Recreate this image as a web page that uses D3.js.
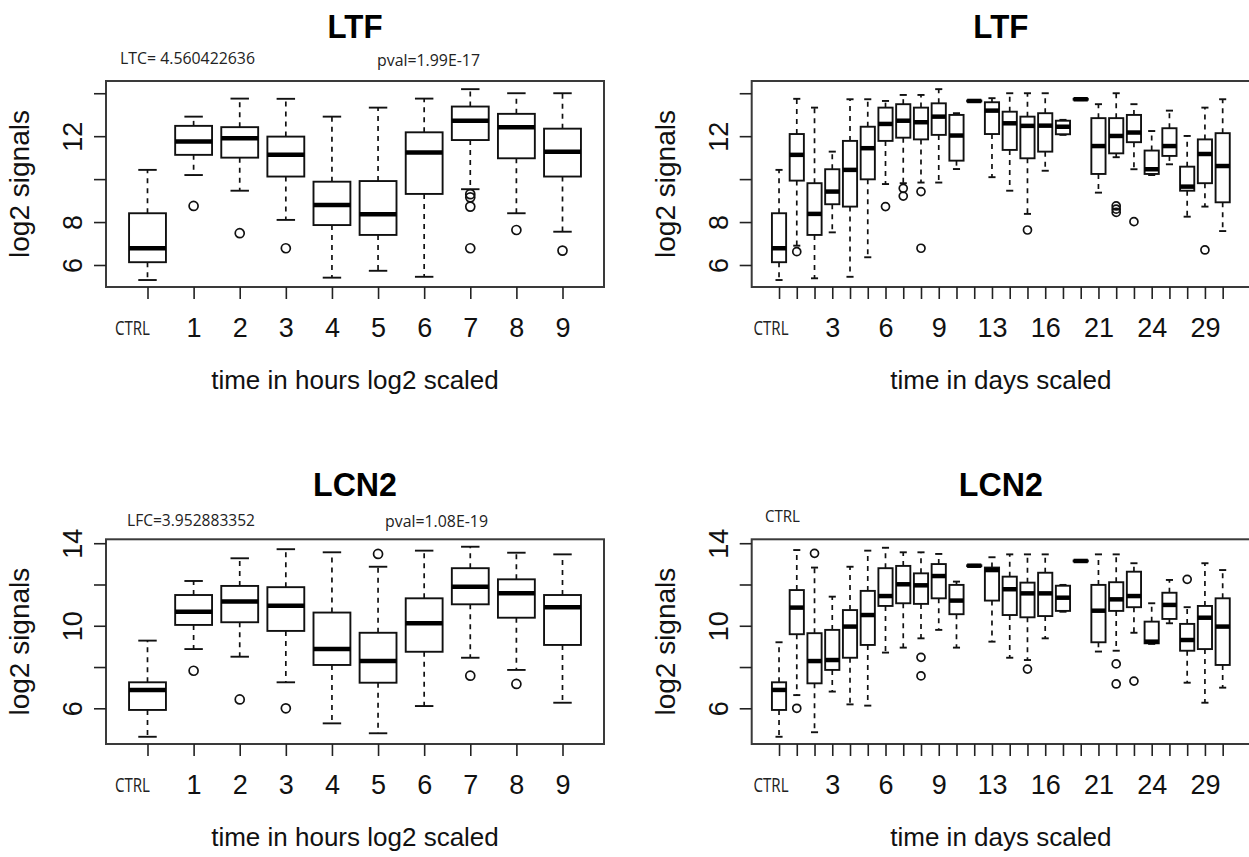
<!DOCTYPE html>
<html>
<head>
<meta charset="utf-8">
<script src="https://cdn.jsdelivr.net/npm/d3@7"></script>
<style>
  body { margin: 0; background: #fff; }
  svg { display: block; }
  .tick text { font-family: "Liberation Sans", Arial, sans-serif; }
</style>
</head>
<body>
<script>
// categories
let hoursCats = ["CTRL", "1", "2", "3", "4", "5", "6", "7", "8", "9"];
let daysCats = ["CTRL", "1", "2", "3", "4", "5", "6", "7", "8", "9", "10", "11", "13",
  "14", "15", "16", "17", "20", "21", "22", "23", "24", "27", "28", "29", "30"];
let daysShown = ["CTRL", "3", "6", "9", "13", "16", "21", "24", "29"];

// y tick values and which of them R printed
let yTicks = [6, 8, 10, 12, 14];
let ltfYShown = [6, 8, 12];
let lcnYShown = [6, 10, 14];

// box stats: [lower whisker, Q1, median, Q3, upper whisker]
let ltfHours = [
  [5.30, 6.13, 6.78, 8.41, 10.43], [10.19, 11.13, 11.75, 12.48, 12.91],
  [9.46, 11.00, 11.90, 12.42, 13.75], [8.10, 10.12, 11.13, 11.98, 13.74],
  [5.41, 7.86, 8.80, 9.88, 12.91], [5.73, 7.40, 8.36, 9.91, 13.33],
  [5.45, 9.31, 11.24, 12.18, 13.75], [9.53, 11.82, 12.72, 13.38, 14.19],
  [8.41, 10.97, 12.42, 13.04, 14.00], [7.55, 10.12, 11.28, 12.35, 14.00]
];
let ltfHoursOut = [[], [8.75], [7.48], [6.78], [], [], [], [9.30, 9.15, 8.72, 6.78], [7.63], [6.67]];

let lcnHours = [
  [4.62, 5.92, 6.89, 7.26, 9.28], [8.87, 10.04, 10.68, 11.49, 12.17],
  [8.50, 10.17, 11.17, 11.93, 13.27], [7.26, 9.75, 10.97, 11.87, 13.71],
  [5.27, 8.10, 8.87, 10.64, 13.56], [4.79, 7.24, 8.29, 9.66, 12.86],
  [6.11, 8.74, 10.12, 11.33, 13.64], [8.45, 11.04, 11.89, 12.79, 13.83],
  [7.86, 10.39, 11.57, 12.25, 13.54], [6.27, 9.07, 10.90, 11.49, 13.46]
];
let lcnHoursOut = [[], [7.82], [6.43], [6.00], [], [13.48], [], [7.58], [7.18], []];

let ltfDays = [
  [5.30, 6.13, 6.78, 8.41, 10.43], [6.90, 9.93, 11.13, 12.10, 13.74],
  [5.38, 7.40, 8.38, 9.81, 13.33], [7.52, 8.83, 9.42, 10.46, 11.28],
  [5.45, 8.72, 10.43, 11.78, 13.72], [6.36, 9.99, 11.44, 12.44, 13.72],
  [9.77, 11.78, 12.57, 13.33, 13.64], [9.81, 11.93, 12.72, 13.49, 13.92],
  [9.84, 11.85, 12.65, 13.33, 13.92], [9.84, 12.06, 12.91, 13.53, 14.19],
  [10.47, 10.86, 12.03, 12.99, 13.07], [13.60, 13.62, 13.64, 13.66, 13.68],
  [10.09, 12.10, 13.19, 13.58, 13.77], [9.46, 11.36, 12.60, 13.14, 14.00],
  [8.38, 10.97, 12.48, 12.91, 14.00], [10.39, 11.28, 12.49, 13.07, 14.00],
  [12.06, 12.09, 12.44, 12.72, 12.76], [13.68, 13.70, 13.72, 13.74, 13.76],
  [9.37, 10.24, 11.54, 12.84, 13.49], [11.02, 11.20, 12.01, 12.84, 14.00],
  [10.46, 11.72, 12.17, 12.99, 13.49], [10.19, 10.24, 10.46, 11.33, 12.24],
  [10.69, 11.08, 11.54, 12.37, 13.19], [8.25, 9.46, 9.65, 10.58, 12.01],
  [8.72, 9.81, 11.17, 11.85, 13.33], [7.58, 8.92, 10.61, 12.14, 13.72]
];
let ltfDaysOut = [[], [6.62], [], [], [], [], [8.72], [9.57, 9.21], [9.42, 6.78], [], [], [],
  [], [], [7.63], [], [], [], [], [8.75, 8.60, 8.45], [8.02], [], [], [], [6.70], []];

let lcnDays = [
  [4.62, 5.92, 6.89, 7.26, 9.20], [6.64, 9.59, 10.88, 11.73, 13.67],
  [4.84, 7.21, 8.29, 9.64, 12.82], [6.81, 7.86, 8.34, 9.80, 11.41],
  [6.19, 8.45, 9.96, 10.76, 12.86], [6.13, 9.07, 10.52, 11.69, 13.64],
  [8.70, 10.96, 11.44, 12.79, 13.78], [8.94, 11.09, 12.01, 12.90, 13.56],
  [9.39, 11.06, 11.96, 12.54, 13.56], [9.80, 11.33, 12.41, 12.99, 13.48],
  [8.94, 10.56, 11.22, 11.98, 12.14], [12.87, 12.89, 12.91, 12.93, 12.95],
  [9.23, 11.22, 12.70, 12.82, 13.32], [8.45, 10.52, 11.77, 12.38, 13.46],
  [8.34, 10.41, 11.57, 12.09, 13.46], [9.39, 10.47, 11.57, 12.57, 13.46],
  [10.68, 10.72, 11.36, 11.94, 11.98], [13.10, 13.12, 13.14, 13.16, 13.18],
  [8.75, 9.20, 10.73, 11.98, 13.46], [8.79, 10.72, 11.28, 12.11, 13.46],
  [9.66, 10.90, 11.44, 12.62, 13.03], [9.12, 9.15, 9.23, 10.20, 11.09],
  [10.12, 10.33, 11.01, 11.60, 12.22], [7.24, 8.79, 9.31, 10.09, 10.90],
  [6.27, 8.87, 10.39, 10.96, 13.03], [7.00, 8.10, 9.96, 11.33, 12.70]
];
let lcnDaysOut = [[], [6.00], [13.51], [], [], [], [], [], [8.47, 7.57], [], [], [],
  [], [], [7.90], [], [], [], [], [8.15, 7.18], [7.32], [], [], [12.25], [], []];

let width = 1249;
let height = 857;

let svg = d3.select("body").append("svg")
  .attr("width", width)
  .attr("height", height);

let font = '"Liberation Sans", Arial, sans-serif';
let narrow = '"Liberation Sans Narrow", "Open Sans", sans-serif';

// one panel = one R boxplot
function panel(opt) {
  let x = d3.scalePoint()
    .domain(opt.cats)
    .range([opt.left, opt.right])
    .padding(opt.pad);
  let y = d3.scaleLinear()
    .domain(opt.ydom)
    .range([opt.bottom, opt.top]);

  let g = svg.append("g");
  let step = x.step();
  let bw = step * 0.8;
  let cw = bw * 0.5;

  // frame
  g.append("rect")
    .attr("x", opt.left).attr("y", opt.top)
    .attr("width", opt.right - opt.left)
    .attr("height", opt.bottom - opt.top)
    .attr("fill", "none")
    .attr("stroke", "#3a3a3a")
    .attr("stroke-width", 2);

  let box = g.selectAll(".box")
    .data(opt.stats.map((s, i) => ({ s: s, out: opt.out[i], c: opt.cats[i] })))
    .enter()
    .append("g")
    .attr("transform", d => "translate(" + x(d.c) + ",0)");

  // whiskers
  box.append("line")
    .attr("y1", d => y(d.s[3])).attr("y2", d => y(d.s[4]))
    .attr("stroke", "#111").attr("stroke-width", 1.7)
    .attr("stroke-dasharray", "5,5");
  box.append("line")
    .attr("y1", d => y(d.s[1])).attr("y2", d => y(d.s[0]))
    .attr("stroke", "#111").attr("stroke-width", 1.7)
    .attr("stroke-dasharray", "5,5");
  // staples
  [0, 4].forEach(k => {
    box.append("line")
      .attr("x1", -cw / 2).attr("x2", cw / 2)
      .attr("y1", d => y(d.s[k])).attr("y2", d => y(d.s[k]))
      .attr("stroke", "#111").attr("stroke-width", 1.9);
  });
  // box
  box.append("rect")
    .attr("x", -bw / 2).attr("width", bw)
    .attr("y", d => y(d.s[3]))
    .attr("height", d => y(d.s[1]) - y(d.s[3]))
    .attr("fill", "#fff")
    .attr("stroke", "#111").attr("stroke-width", 1.9);
  // median
  box.append("line")
    .attr("x1", -bw / 2).attr("x2", bw / 2)
    .attr("y1", d => y(d.s[2])).attr("y2", d => y(d.s[2]))
    .attr("stroke", "#000").attr("stroke-width", 4.5);
  // outliers
  box.selectAll("circle")
    .data(d => d.out)
    .enter()
    .append("circle")
    .attr("cy", d => y(d))
    .attr("r", opt.r)
    .attr("fill", "none")
    .attr("stroke", "#111").attr("stroke-width", 1.7);

  // y axis
  let ya = g.append("g")
    .attr("transform", "translate(" + opt.left + ",0)")
    .call(d3.axisLeft(y).tickValues(yTicks).tickSize(12)
      .tickFormat(d => opt.yShown.includes(d) ? d : ""));
  ya.select(".domain").remove();
  ya.selectAll("line").attr("stroke", "#222").attr("stroke-width", 1.6);
  ya.selectAll("text")
    .attr("x", 0).attr("y", -24).attr("dy", 0)
    .attr("transform", "rotate(-90)")
    .attr("text-anchor", "middle")
    .style("font-size", "27px").attr("fill", "#111");

  // x axis
  let xa = g.append("g")
    .attr("transform", "translate(0," + opt.bottom + ")")
    .call(d3.axisBottom(x).tickSize(12)
      .tickFormat(d => (d != "CTRL" && opt.shown.includes(d)) ? d : ""));
  xa.select(".domain").remove();
  xa.selectAll("line").attr("stroke", "#222").attr("stroke-width", 1.6);
  xa.selectAll("text")
    .attr("y", 50).attr("dy", 0)
    .style("font-size", "27px").attr("fill", "#111");

  // CTRL label (pasted in afterwards, different font)
  g.append("text")
    .attr("x", x("CTRL") + opt.ctrlDx)
    .attr("y", opt.bottom + 48)
    .attr("text-anchor", "middle")
    .attr("textLength", 35).attr("lengthAdjust", "spacingAndGlyphs")
    .style("font-family", narrow).style("font-size", "20px")
    .attr("fill", "#222")
    .text("CTRL");

  // title
  let cx = (opt.left + opt.right) / 2;
  g.append("text")
    .attr("x", cx).attr("y", opt.top - 43)
    .attr("text-anchor", "middle")
    .attr("textLength", opt.titleW).attr("lengthAdjust", "spacingAndGlyphs")
    .style("font-family", font).style("font-weight", "bold").style("font-size", "34px")
    .text(opt.title);

  // axis titles
  g.append("text")
    .attr("x", cx).attr("y", opt.bottom + 102)
    .attr("text-anchor", "middle")
    .style("font-family", font).style("font-size", "26px")
    .attr("fill", "#111")
    .text(opt.xlab);
  g.append("text")
    .attr("transform", "translate(" + (opt.left - 77) + "," + ((opt.top + opt.bottom) / 2) + ") rotate(-90)")
    .attr("text-anchor", "middle")
    .style("font-family", font).style("font-size", "28px")
    .attr("fill", "#111")
    .text("log2 signals");

  // notes
  (opt.notes || []).forEach(n => {
    g.append("text")
      .attr("x", n.x).attr("y", n.y)
      .attr("textLength", n.w).attr("lengthAdjust", "spacingAndGlyphs")
      .style("font-family", narrow).style("font-size", "17px")
      .attr("fill", "#222")
      .text(n.t);
  });
}

panel({
  title: "LTF", titleW: 55, xlab: "time in hours log2 scaled",
  cats: hoursCats, shown: hoursCats, stats: ltfHours, out: ltfHoursOut,
  left: 106, right: 604, pad: 0.9, top: 81, bottom: 287, ydom: [4.975, 14.57],
  yShown: ltfYShown, r: 4.5, ctrlDx: -15,
  notes: [{ x: 120, y: 64, w: 135, t: "LTC= 4.560422636" },
          { x: 377, y: 66, w: 103, t: "pval=1.99E-17" }]
});

panel({
  title: "LTF", titleW: 55, xlab: "time in days scaled",
  cats: daysCats, shown: daysShown, stats: ltfDays, out: ltfDaysOut,
  left: 751.7, right: 1250, pad: 1.54, top: 81, bottom: 287, ydom: [4.975, 14.57],
  yShown: ltfYShown, r: 4, ctrlDx: -8
});

panel({
  title: "LCN2", titleW: 84, xlab: "time in hours log2 scaled",
  cats: hoursCats, shown: hoursCats, stats: lcnHours, out: lcnHoursOut,
  left: 106, right: 604, pad: 0.9, top: 539.3, bottom: 744, ydom: [4.27, 14.19],
  yShown: lcnYShown, r: 4.5, ctrlDx: -15,
  notes: [{ x: 127, y: 526, w: 128, t: "LFC=3.952883352" },
          { x: 385, y: 527, w: 103, t: "pval=1.08E-19" }]
});

panel({
  title: "LCN2", titleW: 84, xlab: "time in days scaled",
  cats: daysCats, shown: daysShown, stats: lcnDays, out: lcnDaysOut,
  left: 751.7, right: 1250, pad: 1.54, top: 539.3, bottom: 744, ydom: [4.27, 14.19],
  yShown: lcnYShown, r: 4, ctrlDx: -8,
  notes: [{ x: 765, y: 522, w: 35, t: "CTRL" }]
});
</script>
</body>
</html>
